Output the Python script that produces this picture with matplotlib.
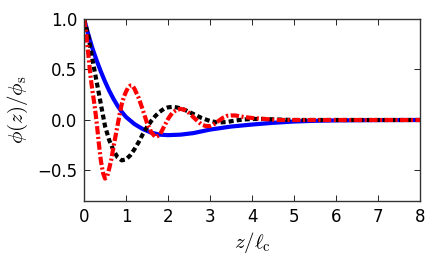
import matplotlib
matplotlib.use("Agg")
import matplotlib.pyplot as plt

# values
z_blue = [0.0, 0.1, 0.2, 0.3, 0.4, 0.5, 0.6, 0.7, 0.8, 0.9, 1.0, 1.2, 1.4, 1.6, 1.8,
          2.0, 2.3, 2.6, 3.0, 3.5, 4.0, 4.5, 5.0, 5.5, 6.0, 7.0, 8.0]
phi_blue = [1.00, 0.85, 0.71, 0.59, 0.48, 0.38, 0.29, 0.21, 0.14, 0.08, 0.03, -0.04,
            -0.09, -0.125, -0.145, -0.15, -0.145, -0.13, -0.095, -0.065, -0.045,
            -0.028, -0.015, -0.008, -0.004, -0.001, 0.0]

z_black = [0.0, 0.1, 0.2, 0.3, 0.4, 0.5, 0.6, 0.7, 0.8, 0.9, 1.0, 1.1, 1.2, 1.3, 1.4,
           1.5, 1.6, 1.7, 1.8, 1.9, 2.0, 2.1, 2.2, 2.3, 2.4, 2.6, 2.8, 3.0, 3.2, 3.4,
           3.6, 3.8, 4.0, 4.3, 4.6, 5.0, 6.0, 7.0, 8.0]
phi_black = [1.00, 0.84, 0.60, 0.38, 0.16, -0.06, -0.20, -0.30, -0.37, -0.40, -0.39,
             -0.35, -0.29, -0.22, -0.14, -0.07, -0.01, 0.04, 0.08, 0.11, 0.125, 0.13,
             0.125, 0.115, 0.10, 0.06, 0.02, -0.01, -0.025, -0.02, -0.005, 0.005, 0.01,
             0.01, 0.005, 0.0, 0.0, 0.0, 0.0]

z_red = [0.0, 0.05, 0.1, 0.15, 0.2, 0.25, 0.3, 0.35, 0.4, 0.45, 0.5, 0.55, 0.6, 0.65,
         0.7, 0.75, 0.8, 0.85, 0.9, 0.95, 1.0, 1.05, 1.1, 1.15, 1.2, 1.3, 1.4, 1.5,
         1.6, 1.7, 1.8, 1.9, 2.0, 2.1, 2.2, 2.3, 2.4, 2.5, 2.6, 2.7, 2.8, 2.9, 3.0,
         3.1, 3.2, 3.3, 3.4, 3.5, 3.6, 3.8, 4.0, 4.3, 4.6, 5.0, 6.0, 7.0, 8.0]
phi_red = [1.00, 0.86, 0.66, 0.45, 0.29, 0.15, -0.02, -0.22, -0.40, -0.52, -0.58,
           -0.56, -0.48, -0.39, -0.27, -0.16, -0.05, 0.06, 0.16, 0.23, 0.28, 0.32,
           0.34, 0.34, 0.31, 0.22, 0.10, -0.03, -0.12, -0.17, -0.15, -0.07, 0.01,
           0.07, 0.10, 0.11, 0.10, 0.07, 0.03, -0.01, -0.045, -0.06, -0.06, -0.04,
           -0.01, 0.02, 0.04, 0.045, 0.045, 0.03, 0.02, 0.01, 0.0, 0.0, 0.0, 0.0, 0.0]

xticks = [0, 1, 2, 3, 4, 5, 6, 7, 8]
yticks = [-0.5, 0.0, 0.5, 1.0]

plt.rcParams['mathtext.fontset'] = 'cm'

fig = plt.figure(figsize=(4.36, 2.62), dpi=100)
ax = fig.add_axes([0.1927, 0.2336, 0.7706, 0.6939])

ax.plot(z_blue, phi_blue, color='#0000ff', lw=3, solid_capstyle='butt')
ax.plot(z_black, phi_black, color='black', lw=3, dashes=(1.2, 0.75))
ax.plot(z_red, phi_red, color='#ff0000', lw=3, dashes=(2.0, 0.6, 0.5, 0.6))

ax.set_xlim(0, 8)
ax.set_ylim(-0.8, 1.0)
ax.set_xticks(xticks)
ax.set_yticks(yticks)
ax.set_yticklabels([('%.1f' % v).replace('-', '\u2212') for v in yticks])
ax.tick_params(direction='in', length=4, width=0.6, top=True, right=True,
               labelsize=12, pad=5)
for s in ax.spines.values():
    s.set_linewidth(1.0)
    s.set_color('#333333')

ax.set_xlabel(r'$z/\ell_{\rm c}$', fontsize=15, labelpad=3)
ax.set_ylabel(r'$\phi(z)/\phi_{\rm s}$', fontsize=15, labelpad=5)

fig.savefig('out.png', dpi=100)
